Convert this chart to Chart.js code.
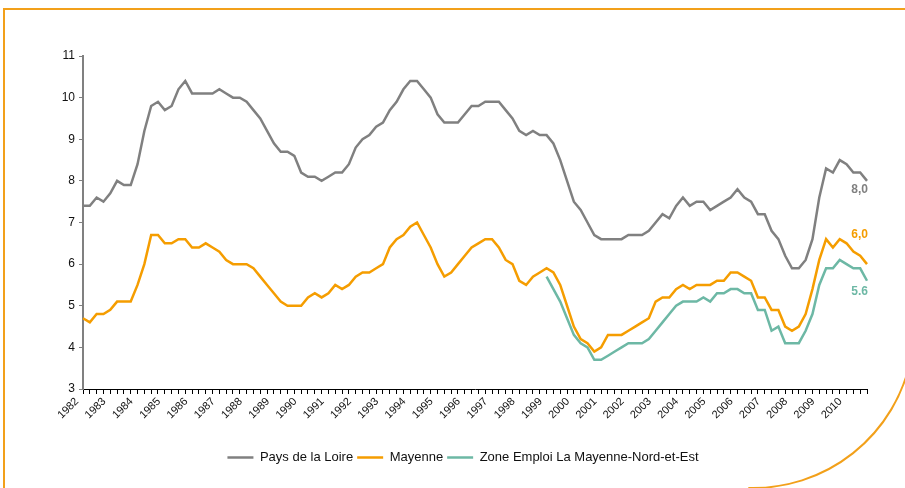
<!DOCTYPE html>
<html>
<head>
<meta charset="utf-8">
<script src="https://cdn.jsdelivr.net/npm/chart.js@4/dist/chart.umd.min.js"></script>
<style>
  body { margin: 0; background: #fff; }
  canvas { display: block; }
</style>
</head>
<body>
<canvas id="chart" width="905" height="488"></canvas>
<script>
// Taux de chômage trimestriel (%), 1982 T1 -> 2010 T4
const years = [1982, 1983, 1984, 1985, 1986, 1987, 1988, 1989, 1990, 1991, 1992, 1993, 1994, 1995,
  1996, 1997, 1998, 1999, 2000, 2001, 2002, 2003, 2004, 2005, 2006, 2007, 2008, 2009, 2010];
const quarters = ['T1', 'T2', 'T3', 'T4'];

const paysDeLaLoire = [
  7.4, 7.4, 7.6, 7.5, 7.7, 8.0, 7.9, 7.9, 8.4, 9.2, 9.8, 9.9,
  9.7, 9.8, 10.2, 10.4, 10.1, 10.1, 10.1, 10.1, 10.2, 10.1, 10.0, 10.0,
  9.9, 9.7, 9.5, 9.2, 8.9, 8.7, 8.7, 8.6, 8.2, 8.1, 8.1, 8.0,
  8.1, 8.2, 8.2, 8.4, 8.8, 9.0, 9.1, 9.3, 9.4, 9.7, 9.9, 10.2,
  10.4, 10.4, 10.2, 10.0, 9.6, 9.4, 9.4, 9.4, 9.6, 9.8, 9.8, 9.9,
  9.9, 9.9, 9.7, 9.5, 9.2, 9.1, 9.2, 9.1, 9.1, 8.9, 8.5, 8.0,
  7.5, 7.3, 7.0, 6.7, 6.6, 6.6, 6.6, 6.6, 6.7, 6.7, 6.7, 6.8,
  7.0, 7.2, 7.1, 7.4, 7.6, 7.4, 7.5, 7.5, 7.3, 7.4, 7.5, 7.6,
  7.8, 7.6, 7.5, 7.2, 7.2, 6.8, 6.6, 6.2, 5.9, 5.9, 6.1, 6.6,
  7.6, 8.3, 8.2, 8.5, 8.4, 8.2, 8.2, 8.0
];

const mayenne = [
  4.7, 4.6, 4.8, 4.8, 4.9, 5.1, 5.1, 5.1, 5.5, 6.0, 6.7, 6.7,
  6.5, 6.5, 6.6, 6.6, 6.4, 6.4, 6.5, 6.4, 6.3, 6.1, 6.0, 6.0,
  6.0, 5.9, 5.7, 5.5, 5.3, 5.1, 5.0, 5.0, 5.0, 5.2, 5.3, 5.2,
  5.3, 5.5, 5.4, 5.5, 5.7, 5.8, 5.8, 5.9, 6.0, 6.4, 6.6, 6.7,
  6.9, 7.0, 6.7, 6.4, 6.0, 5.7, 5.8, 6.0, 6.2, 6.4, 6.5, 6.6,
  6.6, 6.4, 6.1, 6.0, 5.6, 5.5, 5.7, 5.8, 5.9, 5.8, 5.5, 5.0,
  4.5, 4.2, 4.1, 3.9, 4.0, 4.3, 4.3, 4.3, 4.4, 4.5, 4.6, 4.7,
  5.1, 5.2, 5.2, 5.4, 5.5, 5.4, 5.5, 5.5, 5.5, 5.6, 5.6, 5.8,
  5.8, 5.7, 5.6, 5.2, 5.2, 4.9, 4.9, 4.5, 4.4, 4.5, 4.8, 5.4,
  6.1, 6.6, 6.4, 6.6, 6.5, 6.3, 6.2, 6.0
];

// série disponible à partir de 1999 T1
const zoneStart = 68;
const zoneEmploi = [
  5.7, 5.4, 5.1, 4.7,
  4.3, 4.1, 4.0, 3.7, 3.7, 3.8, 3.9, 4.0, 4.1, 4.1, 4.1, 4.2,
  4.4, 4.6, 4.8, 5.0, 5.1, 5.1, 5.1, 5.2, 5.1, 5.3, 5.3, 5.4,
  5.4, 5.3, 5.3, 4.9, 4.9, 4.4, 4.5, 4.1, 4.1, 4.1, 4.4, 4.8,
  5.5, 5.9, 5.9, 6.1, 6.0, 5.9, 5.9, 5.6
];

const seriesNames = ['Pays de la Loire', 'Mayenne', 'Zone Emploi La Mayenne-Nord-et-Est'];
const endLabels = ['8,0', '6,0', '5.6'];
const yTicks = [3, 4, 5, 6, 7, 8, 9, 10, 11];

const GREY = '#808080';
const ORANGE = '#f59d00';
const TEAL = '#6db8a5';
const FONT = "'Liberation Sans', Arial, sans-serif";

const labels = [];
years.forEach(y => quarters.forEach(q => labels.push(y + ' ' + q)));

// cadre orange décoratif
const framePlugin = {
  id: 'frame',
  afterDraw(chart) {
    const ctx = chart.ctx;
    ctx.save();
    ctx.strokeStyle = '#f2a01a';
    ctx.lineWidth = 2;
    ctx.beginPath();
    ctx.moveTo(4, 488);
    ctx.lineTo(4, 9);
    ctx.lineTo(905, 9);
    ctx.stroke();
    ctx.beginPath();
    ctx.arc(753, 327, 161, 0.2, 1.6);
    ctx.stroke();
    ctx.restore();
  }
};

// étiquettes de la dernière valeur
const offsets = [3, -35, 5];
const endLabelPlugin = {
  id: 'endLabels',
  afterDatasetsDraw(chart) {
    const ctx = chart.ctx;
    ctx.save();
    ctx.font = 'bold 12px ' + FONT;
    ctx.textAlign = 'right';
    ctx.textBaseline = 'top';
    chart.data.datasets.forEach((ds, i) => {
      const pts = chart.getDatasetMeta(i).data;
      const p = pts[pts.length - 1];
      ctx.fillStyle = ds.borderColor;
      ctx.fillText(endLabels[i], p.x + 1, p.y + offsets[i]);
    });
    ctx.restore();
  }
};

new Chart(document.getElementById('chart').getContext('2d'), {
  type: 'line',
  data: {
    labels: labels,
    datasets: [{
      label: seriesNames[0],
      data: paysDeLaLoire,
      borderColor: GREY,
      backgroundColor: GREY,
      borderWidth: 2.5
    }, {
      label: seriesNames[1],
      data: mayenne,
      borderColor: ORANGE,
      backgroundColor: ORANGE,
      borderWidth: 2.5
    }, {
      label: seriesNames[2],
      data: Array(zoneStart).fill(null).concat(zoneEmploi),
      borderColor: TEAL,
      backgroundColor: TEAL,
      borderWidth: 2.5
    }]
  },
  options: {
    responsive: false,
    animation: false,
    elements: { point: { radius: 0 }, line: { tension: 0 } },
    layout: { padding: { left: 59, right: 38, top: 56, bottom: 14 } },
    scales: {
      x: {
        afterFit: s => { s.height = 58; },
        border: { color: '#000', width: 1 },
        grid: { drawOnChartArea: false, tickLength: 5, color: '#000' },
        ticks: {
          autoSkip: false,
          maxRotation: 45,
          minRotation: 45,
          padding: 1,
          labelOffset: -6,
          color: '#111',
          font: { family: FONT, size: 11 },
          callback: (v, i) => i % 4 === 0 ? labels[i].slice(0, 4) : ''
        }
      },
      y: {
        min: 3,
        max: 11,
        afterFit: s => { s.width = 24; },
        afterBuildTicks: s => { s.ticks = yTicks.map(v => ({ value: v })); },
        border: { color: GREY, width: 2 },
        grid: { drawOnChartArea: false, tickLength: 4, color: GREY },
        ticks: { color: '#111', padding: 4, font: { family: FONT, size: 12 } }
      }
    },
    plugins: {
      legend: {
        position: 'bottom',
        labels: {
          usePointStyle: true,
          pointStyle: 'line',
          pointStyleWidth: 26,
          padding: 4,
          color: '#111',
          font: { family: FONT, size: 13 }
        }
      },
      tooltip: { enabled: false }
    }
  },
  plugins: [framePlugin, endLabelPlugin]
});
</script>
</body>
</html>
